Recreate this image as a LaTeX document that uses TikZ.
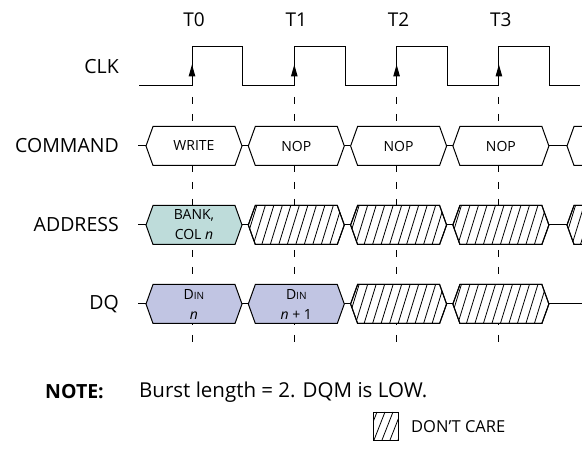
\documentclass[tikz,border=0pt]{standalone}
\usepackage{fontspec}
\setmainfont{Open Sans}
\usetikzlibrary{arrows.meta}

\definecolor{addrfill}{HTML}{BEDCDA}
\definecolor{dqfill}{HTML}{C1C5E3}

\tikzset{
  sig/.style={line width=1pt, line join=miter},
  hatch/.style={line width=0.8pt},
  guide/.style={line width=0.9pt, dash pattern=on 7pt off 10pt},
  edgearrow/.style={-{Triangle[length=12pt,width=6.5pt]}, line width=1pt},
  rowlabel/.style={anchor=east, inner sep=0pt, font=\fontsize{19.5}{22}\selectfont},
  ticklabel/.style={inner sep=0pt, font=\fontsize{19}{22}\selectfont},
  boxtext/.style={inner sep=0pt, align=center, font=\fontsize{14}{20}\selectfont},
  notetext/.style={anchor=west, inner sep=0pt, font=\fontsize{20.5}{22}\selectfont},
}

% bus segment: left x, right x, centre y, fill colour
\newcommand\busbox[4]{%
  \filldraw[sig, fill=#4] (#1,#3) -- ({#1+7},{#3-19.5}) -- ({#2-7},{#3-19.5})
    -- (#2,#3) -- ({#2-7},{#3+19.5}) -- ({#1+7},{#3+19.5}) -- cycle;}
% don't care segment: left x, right x, centre y
\newcommand\hatchbox[3]{%
  \busbox{#1}{#2}{#3}{white}
  \begin{scope}
    \clip (#1,#3) -- ({#1+7},{#3-19.5}) -- ({#2-7},{#3-19.5})
      -- (#2,#3) -- ({#2-7},{#3+19.5}) -- ({#1+7},{#3+19.5}) -- cycle;
    \foreach \k in {0,...,13}
      \draw[hatch] ({#1-12+8.5*\k},{#3+19.5}) -- ++(12,-39);
  \end{scope}
  \busbox{#1}{#2}{#3}{none}}

\begin{document}
\begin{tikzpicture}[x=1pt, y=-1pt]
  \useasboundingbox (0,0) rectangle (582,449);

  % clock edges, guides and labels
  \foreach \k in {0,...,3} {
    \pgfmathsetmacro\rise{192+102.3*\k}
    \draw[guide] (\rise,97) -- (\rise,345);
    \node[ticklabel] (t\k) at ({\rise+2},20) {T\k};
  }

  % CLK
  \draw[sig] (139,86) foreach \k in {0,...,3} {
      -- ({192+102.3*\k},86) -- ++(0,-39.3) -- ++(50.7,0) -- ++(0,39.3)
    } -- (580,86);
  \foreach \k in {0,...,3}
    \draw[edgearrow] ({192+102.3*\k},79) -- ({192+102.3*\k},64.5);

  % row labels
  \node[rowlabel] (clk) at (119,67) {CLK};
  \node[rowlabel] (cmd) at (119,146) {COMMAND};
  \node[rowlabel] (addr) at (119,225) {ADDRESS};
  \node[rowlabel] (dq) at (119,304) {DQ};

  % stubs and joins
  \foreach \y in {146,225,304} {
    \draw[sig] (138,\y) -- (146,\y);
    \foreach \j in {242,344.3,446.6}
      \draw[sig] (\j,\y) -- ({\j+6},\y);
  }
  \draw[sig] (548.9,146) -- (567,146);
  \draw[sig] (548.9,225) -- (567,225);
  \draw[sig] (548.9,304) -- (582,304);

  % COMMAND
  \busbox{146}{242}{146}{white}
  \busbox{248.3}{344.3}{146}{white}
  \busbox{350.6}{446.6}{146}{white}
  \busbox{452.9}{548.9}{146}{white}
  \draw[sig] (583,126.5) -- (574,126.5) -- (567,146) -- (574,165.5) -- (583,165.5);
  \node[boxtext] (write) at (194,146) {WRITE};
  \node[boxtext] (nop1) at (296.3,146) {NOP};
  \node[boxtext] (nop2) at (398.6,146) {NOP};
  \node[boxtext] (nop3) at (500.9,146) {NOP};

  % ADDRESS
  \busbox{146}{242}{225}{addrfill}
  \hatchbox{248.3}{344.3}{225}
  \hatchbox{350.6}{446.6}{225}
  \hatchbox{452.9}{548.9}{225}
  \hatchbox{567}{640}{225}
  \node[boxtext] (bank) at (194,225) {BANK,\\COL \textit{n}};

  % DQ
  \busbox{146}{242}{304}{dqfill}
  \busbox{248.3}{344.3}{304}{dqfill}
  \hatchbox{350.6}{446.6}{304}
  \hatchbox{452.9}{548.9}{304}
  \node[boxtext] (din0) at (194,304.5) {D{\fontsize{10}{10}\selectfont IN}\\\textit{n}};
  \node[boxtext] (din1) at (296.3,304.5) {D{\fontsize{10}{10}\selectfont IN}\\\textit{n} + 1};

  % note and legend
  \node[notetext, font=\fontsize{19.5}{22}\selectfont\bfseries] (note) at (45,392) {NOTE:};
  \node[notetext] (burst) at (139,392) {Burst length = 2. DQM is LOW.};
  \begin{scope}
    \clip (373,412) rectangle (398,440);
    \foreach \k in {0,...,4}
      \draw[hatch] ({366+8*\k},440) -- ++(11,-28);
  \end{scope}
  \draw[line width=0.8pt] (373,412) rectangle (398,440);
  \node[notetext, font=\fontsize{16.5}{20}\selectfont] (dc) at (411,427) {DON’T CARE};
\end{tikzpicture}
\end{document}
